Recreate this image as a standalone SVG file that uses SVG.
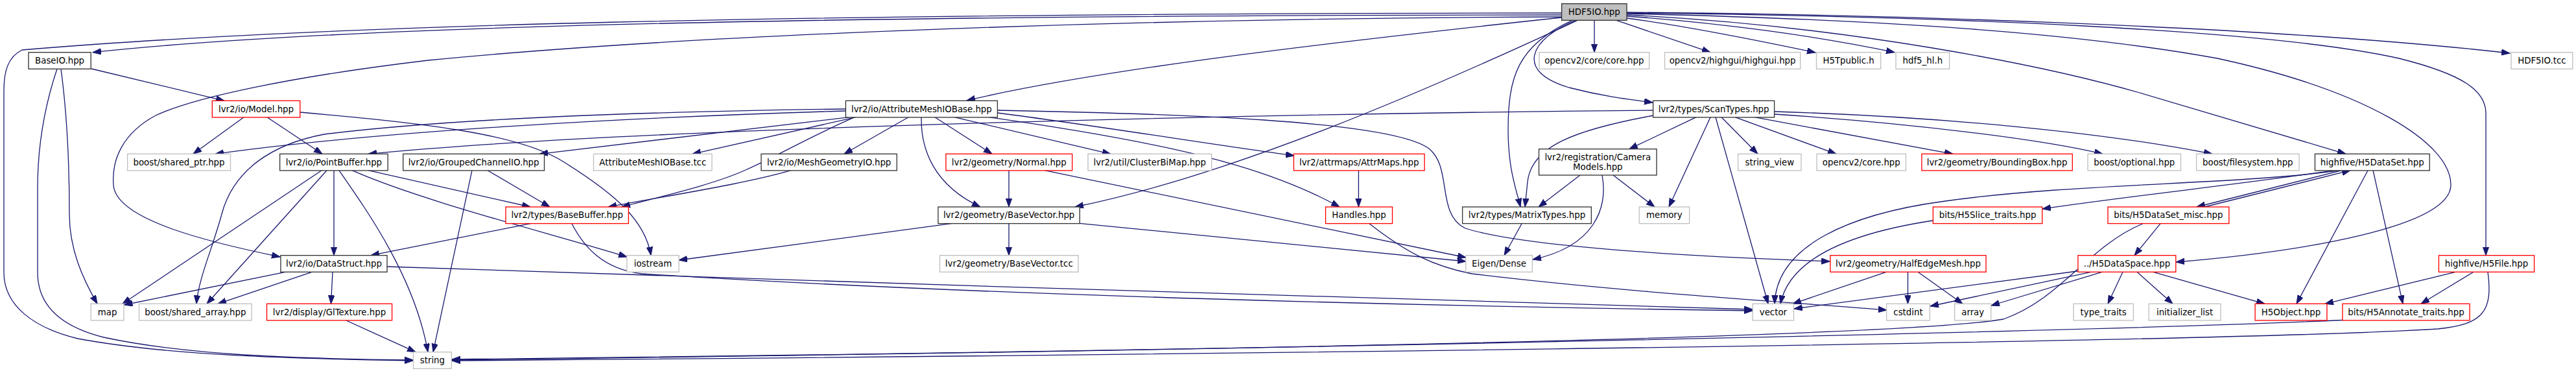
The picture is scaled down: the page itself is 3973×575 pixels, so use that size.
<svg xmlns="http://www.w3.org/2000/svg" width="3973" height="575" viewBox="0 0 3973 575">
<style>
.node rect{fill:#fff;stroke-width:1.33}
.k rect{stroke:#333}
.g rect{stroke:#bfbfbf}
.r rect{stroke:#ff0000}
.root rect{fill:#bfbfbf;stroke:#333}
.node text{font-family:"DejaVu Sans","Liberation Sans",sans-serif;font-size:13.33px;text-anchor:middle;fill:#000}
#edges path{fill:none;stroke:#191970;stroke-width:1.3;marker-end:url(#a)}
</style>
<defs>
<marker id="a" markerWidth="14" markerHeight="10" refX="13" refY="4.7" orient="auto" markerUnits="userSpaceOnUse">
<path d="M0,0L13,4.7L0,9.4z" fill="#191970" stroke="#191970" stroke-width="1"/>
</marker>
</defs>
<rect width="3973" height="575" fill="#fff"/>
<g id="edges">
<path d="M2408,23 C1200,24 500,42 143,80.7"/>
<path d="M2408,20 C1200,21 500,38 34,77 C12,88 6,110 6,140 L6,420 C6,470 50,505 120,522 C260,548 450,553 637,556"/>
<path d="M2408,26 C1800,28 1100,50 660,93 C450,118 300,150 240,178 C190,205 172,245 175,285 C178,340 330,375 432,396"/>
<path d="M2408,27 C2100,60 1700,105 1491,155"/>
<path d="M2433,31.3 C2200,140 1900,270 1658,319"/>
<path d="M2425,31.3 C2340,70 2326,120 2326,200 C2326,260 2338,290 2345,319"/>
<path d="M2430,31.3 C2360,60 2335,110 2420,135 C2470,148 2510,153 2549,158"/>
<path d="M2459,31.3 L2459,80.7"/>
<path d="M2493,31.3 L2638,80.7"/>
<path d="M2509,28 C2600,40 2700,60 2800,81"/>
<path d="M2509,25 C2650,35 2800,55 2922,80.7"/>
<path d="M2509,23 C2850,40 3150,100 3300,143 L3618,237.3"/>
<path d="M2509,19 C2900,22 3500,40 3871,82"/>
<path d="M2509,20 C3000,25 3500,45 3700,90 C3800,115 3834,140 3834,175 L3834,393.7"/>
<path d="M2509,21 C2900,30 3200,50 3420,90 C3650,140 3780,220 3780,285 C3780,350 3550,388 3356,404"/>
<path d="M141,106 L346,155.3"/>
<path d="M88,106.3 C70,160 58,220 58,290 L58,420 C58,475 100,505 160,520 C290,548 460,553 637,555"/>
<path d="M94,106.3 C104,180 107,250 107,330 C107,385 128,430 150,468.3"/>
<path d="M376,180.7 L298,237.3"/>
<path d="M412,180.7 L497,237.3"/>
<path d="M463,173 C650,190 800,205 870,250 C950,300 995,340 1004,393.7"/>
<path d="M1304,171 C1000,180 600,200 332,237.3"/>
<path d="M1304,168 C1000,172 700,182 500,207 C420,222 360,262 342,330 C328,382 306,430 303,468.3"/>
<path d="M1310,180.7 L832,237.3"/>
<path d="M1320,180.7 L1068,237.3"/>
<path d="M1318,180.7 C1240,215 1200,240 1150,262 C1100,285 1010,305 959,319"/>
<path d="M1401,180.7 L1302,237.3"/>
<path d="M1421,180.7 C1420,230 1440,285 1512,319"/>
<path d="M1442,180.7 L1530,237.3"/>
<path d="M1472,180.7 L1713,237.3"/>
<path d="M1538.4,174 C1700,195 1850,220 1996,240"/>
<path d="M1525,180.7 C1800,220 1950,255 2066,319"/>
<path d="M1538.4,170 C1800,175 2150,185 2205,230 C2240,260 2215,330 2260,352 C2350,380 2600,395 2822,403"/>
<path d="M2549.6,170 C2000,175 1000,195 568,237.3"/>
<path d="M2550,178 C2430,200 2362,225 2356,280 L2352,319"/>
<path d="M2616,180.7 L2513,229.7"/>
<path d="M2638,180.7 L2574,319"/>
<path d="M2646,180.7 L2727,468.3"/>
<path d="M2655,180.7 L2711,237.3"/>
<path d="M2676,180.7 L2832,237.3"/>
<path d="M2706,180.7 L3012,237.3"/>
<path d="M2736.6,176 C2950,190 3150,215 3243,237.3"/>
<path d="M2736.6,172 C3000,180 3250,205 3412,237.3"/>
<path d="M2437,270 L2373,319"/>
<path d="M2471,270 C2480,320 2460,380 2364,400"/>
<path d="M2488,270 L2552,319"/>
<path d="M496,262.7 L189,468.3"/>
<path d="M504,262.7 L319,468.3"/>
<path d="M515,262.7 L515,393.7"/>
<path d="M523,262.7 C570,330 640,430 660,542.7"/>
<path d="M543,262.7 C650,310 850,360 967,396"/>
<path d="M568,262.7 L818,319"/>
<path d="M728,262.7 L668,542.7"/>
<path d="M752,262.7 L848,319"/>
<path d="M1220,262.7 C1150,283 1040,300 938,319"/>
<path d="M1556,262.7 L1556,319"/>
<path d="M1611,262.7 L2261,397"/>
<path d="M2095.4,262.7 L2095.4,319"/>
<path d="M818,344.7 L572,393.7"/>
<path d="M882,344.7 C900,380 930,415 990,422 C1500,455 2200,472 2703,479"/>
<path d="M1467,344.7 L1047,401"/>
<path d="M1556,344.7 L1556,393.7"/>
<path d="M1665,344.3 L2261,403"/>
<path d="M2112,344.7 C2170,390 2210,410 2270,422 C2500,450 2750,465 2910,478"/>
<path d="M2347,344.7 L2320,393.7"/>
<path d="M2981,340 C2850,360 2760,400 2746,468.3"/>
<path d="M3332,344.7 L3292,393.7"/>
<path d="M3305,344.7 C3220,380 3180,460 3090,492 C2900,525 1500,545 697,555"/>
<path d="M3400,319 L3625,262.7"/>
<path d="M3609,262.7 C3450,285 3200,282 3000,310 C2850,330 2740,380 2737,468.3"/>
<path d="M3600,262.7 C3450,285 3300,300 3150,322"/>
<path d="M3612,262.7 L3388,319"/>
<path d="M3652,262.7 L3542,468.3"/>
<path d="M3660,262.7 L3706,468.3"/>
<path d="M440,419.3 L191.5,470"/>
<path d="M481,419.3 L336,468.3"/>
<path d="M513,419.3 L510.5,468.3"/>
<path d="M597,411 C1200,430 2200,465 2703,477"/>
<path d="M534,494 L641,542.7"/>
<path d="M2909,419.3 L2765,468.3"/>
<path d="M2942.5,419.3 L2942.5,468.3"/>
<path d="M2958,419.3 L3027,468.3"/>
<path d="M3204,418 L2767,476"/>
<path d="M3225,419.3 L2977,472"/>
<path d="M3242,419.3 L3071,471"/>
<path d="M3274,419.3 L3251,468.3"/>
<path d="M3296,419.3 L3351,468.3"/>
<path d="M3321,419.3 L3493,468.3"/>
<path d="M3787,419.3 L3586,468.3"/>
<path d="M3815,419.3 L3734,468.3"/>
<path d="M3837,419.3 C3845,480 3830,500 3760,507 C3400,530 1500,550 697,556"/>
<path d="M3613,493.5 C3300,508 2000,540 697,554"/>
</g>
<g id="n_hdf5io" class="node root"><rect x="2408.6" y="5.7" width="100.4" height="25.6"/><text x="2458.8" y="23">HDF5IO.hpp</text></g>
<g id="n_baseio" class="node k"><rect x="44" y="80.7" width="96.2" height="25.6"/><text x="92.1" y="98">BaseIO.hpp</text></g>
<g id="n_cvcorecore" class="node g"><rect x="2374" y="80.7" width="169.6" height="25.6"/><text x="2458.8" y="98">opencv2/core/core.hpp</text></g>
<g id="n_highgui" class="node g"><rect x="2567.5" y="80.7" width="209.2" height="25.6"/><text x="2672.1" y="98">opencv2/highgui/highgui.hpp</text></g>
<g id="n_h5tpublic" class="node g"><rect x="2801.5" y="80.7" width="99.2" height="25.6"/><text x="2851.1" y="98">H5Tpublic.h</text></g>
<g id="n_hdf5hl" class="node g"><rect x="2924" y="80.7" width="82.6" height="25.6"/><text x="2965.3" y="98">hdf5_hl.h</text></g>
<g id="n_tcc" class="node g"><rect x="3873" y="80.7" width="94.8" height="25.6"/><text x="3920.4" y="98">HDF5IO.tcc</text></g>
<g id="n_model" class="node r"><rect x="327.3" y="155.3" width="135.5" height="25.6"/><text x="395" y="172.6">lvr2/io/Model.hpp</text></g>
<g id="n_amio" class="node k"><rect x="1304.4" y="155.3" width="234" height="25.6"/><text x="1421.4" y="172.6">lvr2/io/AttributeMeshIOBase.hpp</text></g>
<g id="n_scantypes" class="node k"><rect x="2549.6" y="155.3" width="187" height="25.6"/><text x="2643.1" y="172.6">lvr2/types/ScanTypes.hpp</text></g>
<g id="n_sharedptr" class="node g"><rect x="196.6" y="237.3" width="158.9" height="25.6"/><text x="276" y="254.6">boost/shared_ptr.hpp</text></g>
<g id="n_pointbuffer" class="node k"><rect x="431.6" y="237.3" width="166.6" height="25.6"/><text x="514.9" y="254.6">lvr2/io/PointBuffer.hpp</text></g>
<g id="n_gcio" class="node k"><rect x="621.7" y="237.3" width="217.8" height="25.6"/><text x="730.6" y="254.6">lvr2/io/GroupedChannelIO.hpp</text></g>
<g id="n_amtcc" class="node g"><rect x="915.5" y="237.3" width="182.5" height="25.6"/><text x="1006.8" y="254.6">AttributeMeshIOBase.tcc</text></g>
<g id="n_mgio" class="node k"><rect x="1174" y="237.3" width="209.2" height="25.6"/><text x="1278.6" y="254.6">lvr2/io/MeshGeometryIO.hpp</text></g>
<g id="n_normal" class="node r"><rect x="1458.9" y="237.3" width="194.8" height="25.6"/><text x="1556.3" y="254.6">lvr2/geometry/Normal.hpp</text></g>
<g id="n_cbm" class="node g"><rect x="1678" y="237.3" width="190.6" height="25.6"/><text x="1773.3" y="254.6">lvr2/util/ClusterBiMap.hpp</text></g>
<g id="n_attrmaps" class="node r"><rect x="1995.4" y="237.3" width="201.6" height="25.6"/><text x="2096.2" y="254.6">lvr2/attrmaps/AttrMaps.hpp</text></g>
<g id="n_cam" class="node k"><rect x="2373.5" y="229.7" width="181.5" height="40.3"/><text x="2464.3" y="246.5">lvr2/registration/Camera</text><text x="2464.3" y="261.5">Models.hpp</text></g>
<g id="n_sv" class="node g"><rect x="2680.6" y="237.3" width="97.4" height="25.6"/><text x="2729.3" y="254.6">string_view</text></g>
<g id="n_cv2core" class="node g"><rect x="2802" y="237.3" width="137.5" height="25.6"/><text x="2870.8" y="254.6">opencv2/core.hpp</text></g>
<g id="n_bbox" class="node r"><rect x="2963.9" y="237.3" width="232.4" height="25.6"/><text x="3080.1" y="254.6">lvr2/geometry/BoundingBox.hpp</text></g>
<g id="n_optional" class="node g"><rect x="3220" y="237.3" width="143.5" height="25.6"/><text x="3291.8" y="254.6">boost/optional.hpp</text></g>
<g id="n_filesystem" class="node g"><rect x="3387.6" y="237.3" width="158.4" height="25.6"/><text x="3466.8" y="254.6">boost/filesystem.hpp</text></g>
<g id="n_h5dataset" class="node k"><rect x="3570.4" y="237.3" width="176.8" height="25.6"/><text x="3658.8" y="254.6">highfive/H5DataSet.hpp</text></g>
<g id="n_basebuffer" class="node r"><rect x="780" y="319" width="189.4" height="25.6"/><text x="874.7" y="336.3">lvr2/types/BaseBuffer.hpp</text></g>
<g id="n_basevector" class="node k"><rect x="1446.9" y="319" width="218.4" height="25.6"/><text x="1556.1" y="336.3">lvr2/geometry/BaseVector.hpp</text></g>
<g id="n_handles" class="node r"><rect x="2044.5" y="319" width="103" height="25.6"/><text x="2096" y="336.3">Handles.hpp</text></g>
<g id="n_matrixtypes" class="node k"><rect x="2255.6" y="319" width="198.7" height="25.6"/><text x="2355" y="336.3">lvr2/types/MatrixTypes.hpp</text></g>
<g id="n_memory" class="node g"><rect x="2528.2" y="319" width="77.4" height="25.6"/><text x="2566.9" y="336.3">memory</text></g>
<g id="n_slice" class="node r"><rect x="2981.4" y="319" width="168.4" height="25.6"/><text x="3065.6" y="336.3">bits/H5Slice_traits.hpp</text></g>
<g id="n_misc" class="node r"><rect x="3251" y="319" width="186.8" height="25.6"/><text x="3344.4" y="336.3">bits/H5DataSet_misc.hpp</text></g>
<g id="n_datastruct" class="node k"><rect x="432.9" y="393.7" width="164.1" height="25.6"/><text x="515" y="411">lvr2/io/DataStruct.hpp</text></g>
<g id="n_iostream" class="node g"><rect x="966.8" y="393.7" width="80.3" height="25.6"/><text x="1007" y="411">iostream</text></g>
<g id="n_bvtcc" class="node g"><rect x="1449.5" y="393.7" width="213.5" height="25.6"/><text x="1556.3" y="411">lvr2/geometry/BaseVector.tcc</text></g>
<g id="n_eigen" class="node g"><rect x="2260.7" y="393.7" width="102.6" height="25.6"/><text x="2312" y="411">Eigen/Dense</text></g>
<g id="n_hem" class="node r"><rect x="2822.9" y="393.7" width="240.1" height="25.6"/><text x="2943" y="411">lvr2/geometry/HalfEdgeMesh.hpp</text></g>
<g id="n_dataspace" class="node r"><rect x="3204.9" y="393.7" width="150.9" height="25.6"/><text x="3280.4" y="411">../H5DataSpace.hpp</text></g>
<g id="n_h5file" class="node r"><rect x="3761.4" y="393.7" width="147.2" height="25.6"/><text x="3835" y="411">highfive/H5File.hpp</text></g>
<g id="n_map" class="node g"><rect x="140.2" y="468.3" width="50.8" height="25.6"/><text x="165.6" y="485.6">map</text></g>
<g id="n_sharedarray" class="node g"><rect x="214.5" y="468.3" width="173.5" height="25.6"/><text x="301.3" y="485.6">boost/shared_array.hpp</text></g>
<g id="n_gltexture" class="node r"><rect x="411.5" y="468.3" width="193.1" height="25.6"/><text x="508" y="485.6">lvr2/display/GlTexture.hpp</text></g>
<g id="n_vector" class="node g"><rect x="2703.2" y="468.3" width="63.3" height="25.6"/><text x="2734.9" y="485.6">vector</text></g>
<g id="n_cstdint" class="node g"><rect x="2909.6" y="468.3" width="66.7" height="25.6"/><text x="2943" y="485.6">cstdint</text></g>
<g id="n_array" class="node g"><rect x="3014.7" y="468.3" width="56" height="25.6"/><text x="3042.7" y="485.6">array</text></g>
<g id="n_typetraits" class="node g"><rect x="3198" y="468.3" width="92.4" height="25.6"/><text x="3244.2" y="485.6">type_traits</text></g>
<g id="n_initlist" class="node g"><rect x="3314.2" y="468.3" width="110.7" height="25.6"/><text x="3369.6" y="485.6">initializer_list</text></g>
<g id="n_h5object" class="node r"><rect x="3478.1" y="468.3" width="110.8" height="25.6"/><text x="3533.5" y="485.6">H5Object.hpp</text></g>
<g id="n_annotate" class="node r"><rect x="3612.9" y="468.3" width="196.1" height="25.6"/><text x="3711" y="485.6">bits/H5Annotate_traits.hpp</text></g>
<g id="n_string" class="node g"><rect x="637.5" y="542.7" width="58.8" height="25.6"/><text x="666.9" y="560">string</text></g>
</svg>
